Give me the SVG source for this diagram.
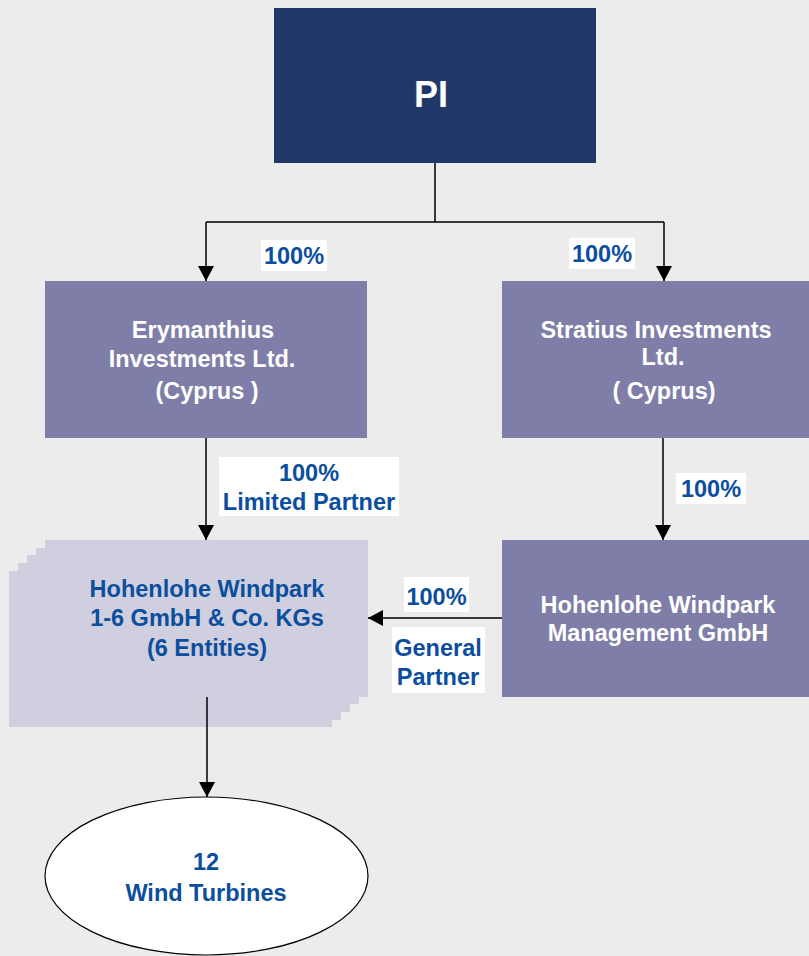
<svg xmlns="http://www.w3.org/2000/svg" width="809" height="956" viewBox="0 0 809 956">
<style>
.box{fill:#7E7EA8}
.stack{fill:#CFCFDF}
.wt{font-family:"Liberation Sans",Arial,sans-serif;font-weight:bold;font-size:23.5px;fill:#FFFFFF;text-anchor:middle}
.bl{font-family:"Liberation Sans",Arial,sans-serif;font-weight:bold;font-size:23.5px;fill:#0B4E9E;text-anchor:middle}
.lab{fill:#FFFFFF}
.con{stroke:#000;stroke-width:1.5;fill:none}
</style>
<defs>
<marker id="ah" markerUnits="userSpaceOnUse" markerWidth="16" markerHeight="16" viewBox="0 0 16 16" refX="15" refY="8" orient="auto">
<path d="M0,0 L15,8 L0,16 Z" fill="#000"/>
</marker>
</defs>
<rect width="809" height="956" fill="#EBECEB"/>
<g id="labels">
<rect class="lab" x="261" y="240" width="66" height="31"/>
<text class="bl" x="294" y="264">100%</text>
<rect class="lab" x="569" y="238" width="66" height="31"/>
<text class="bl" x="602" y="262">100%</text>
<rect class="lab" x="219" y="457" width="180" height="59"/>
<text class="bl" x="309" y="481">100%</text>
<text class="bl" x="309" y="510">Limited Partner</text>
<rect class="lab" x="676" y="473" width="70" height="31"/>
<text class="bl" x="711" y="497">100%</text>
<rect class="lab" x="404" y="577" width="65" height="35"/>
<text class="bl" x="436.5" y="605">100%</text>
<rect class="lab" x="392" y="627" width="93" height="66"/>
<text class="bl" x="438" y="656">General</text>
<text class="bl" x="438" y="685">Partner</text>
</g>
<g id="pi">
<rect x="274" y="8" width="322" height="155" fill="#1F3869"/>
<text class="wt" x="431" y="107" style="font-size:36px">PI</text>
</g>
<g id="erymanthius">
<rect class="box" x="45" y="281" width="322" height="157"/>
<text class="wt" x="203" y="338">Erymanthius</text>
<text class="wt" x="202" y="367">Investments Ltd.</text>
<text class="wt" x="207" y="399">(Cyprus )</text>
</g>
<g id="stratius">
<rect class="box" x="502" y="281" width="307" height="157"/>
<text class="wt" x="656" y="338">Stratius Investments</text>
<text class="wt" x="663" y="365">Ltd.</text>
<text class="wt" x="664" y="399">( Cyprus)</text>
</g>
<g id="management">
<rect class="box" x="502" y="540" width="307" height="157"/>
<text class="wt" x="658" y="613">Hohenlohe Windpark</text>
<text class="wt" x="658" y="641">Management GmbH</text>
</g>
<g id="windpark">
<rect class="stack" x="9" y="571" width="323" height="156"/>
<rect class="stack" x="18" y="563" width="323" height="157"/>
<rect class="stack" x="27" y="555" width="323" height="157"/>
<rect class="stack" x="36" y="548" width="323" height="156"/>
<rect class="stack" x="45" y="540" width="323" height="157"/>
<text class="bl" x="207" y="597">Hohenlohe Windpark</text>
<text class="bl" x="207" y="626">1-6 GmbH &amp; Co. KGs</text>
<text class="bl" x="207" y="656">(6 Entities)</text>
</g>
<g id="turbines">
<ellipse cx="206.5" cy="876" rx="161.5" ry="79" fill="#FFFFFF" stroke="#000" stroke-width="1.2"/>
<text class="bl" x="206" y="870">12</text>
<text class="bl" x="206" y="901">Wind Turbines</text>
</g>
<g id="connectors">
<path class="con" d="M435,163 V222"/>
<path class="con" d="M206,222 H664" stroke="#555"/>
<path class="con" d="M206,222 V281" marker-end="url(#ah)"/>
<path class="con" d="M664,222 V281" marker-end="url(#ah)"/>
<path class="con" d="M206,438 V540" marker-end="url(#ah)"/>
<path class="con" d="M663,438 V540" marker-end="url(#ah)"/>
<path class="con" d="M502,618 H368" marker-end="url(#ah)"/>
<path class="con" d="M207,697 V797" marker-end="url(#ah)"/>
</g>
</svg>
